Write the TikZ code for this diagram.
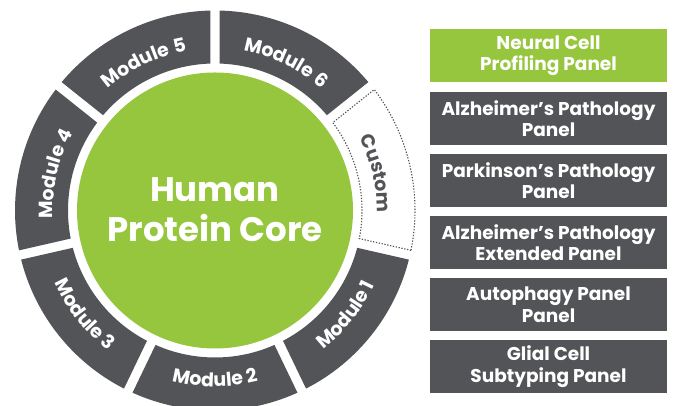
\documentclass[tikz,border=0pt]{standalone}
\usepackage{fontspec}
\setmainfont{Poppins}
\usetikzlibrary{decorations.text}
\definecolor{hpgreen}{RGB}{150,198,61}
\definecolor{hpgray}{RGB}{83,84,88}
\newcommand\ringseg[3]{%
  \pgfmathsetmacro\oa{#1+1.36}\pgfmathsetmacro\ob{#2-1.36}%
  \pgfmathsetmacro\ia{#1+1.85}\pgfmathsetmacro\ib{#2-1.85}%
  \path[#3] (\oa:200pt) arc[start angle=\oa,end angle=\ob,radius=200pt]
    -- (\ib:147pt) arc[start angle=\ib,end angle=\ia,radius=147pt] -- cycle;}
% clockwise label, letter tops outward
\newcommand\cwlabel[4]{%
  \path[decorate,decoration={text along path,text={|\modfont|#3},text align=center,text color=#4}]
    (#2-2:162pt) arc[start angle=#2-2,end angle=#1+2,radius=162pt];}
% counter-clockwise label, letter tops inward
\newcommand\ccwlabel[3]{%
  \path[decorate,decoration={text along path,text={|\modfont|#3},text align=center,text color=white}]
    (#1+2:176pt) arc[start angle=#1+2,end angle=#2-2,radius=176pt];}
\newcommand\modfont{\fontsize{19}{19}\selectfont\bfseries}
\tikzset{
  modseg/.style={fill=hpgray},
  customseg/.style={fill=white,draw=hpgray,line width=1.1pt,dash pattern=on 1.3pt off 1.6pt},
  panel/.style={minimum width=237pt,minimum height=53pt,inner sep=0pt,align=center,
    text=white,font=\fontsize{18.5}{21.5}\selectfont\bfseries},
  graypanel/.style={panel,fill=hpgray},
  greenpanel/.style={panel,fill=hpgreen},
}
\begin{document}
\begin{tikzpicture}[x=1pt,y=1pt]
\useasboundingbox (0,0) rectangle (675,406);
\begin{scope}[shift={(215,195.5)}]
  \fill[hpgreen] (0,0) circle[radius=138pt];
  \node[text=white,font=\fontsize{34}{40}\selectfont\bfseries,align=center] (core) at (0,1) {Human\\Protein Core};
  % segments (each 360/7 degrees)
  \ringseg{90}{141.4286}{modseg}
  \ringseg{141.4286}{192.8571}{modseg}
  \ringseg{192.8571}{244.2857}{modseg}
  \ringseg{244.2857}{295.7143}{modseg}
  \ringseg{295.7143}{347.1429}{modseg}
  \ringseg{347.1429}{398.5714}{customseg}
  \ringseg{398.5714}{450}{modseg}
  \cwlabel{90}{141.4286}{Module 5}{white}
  \cwlabel{141.4286}{192.8571}{Module 4}{white}
  \ccwlabel{192.8571}{244.2857}{Module 3}
  \ccwlabel{244.2857}{295.7143}{Module 2}
  \ccwlabel{295.7143}{347.1429}{Module 1}
  \cwlabel{347.1429}{398.5714}{Custom}{hpgray}
  \cwlabel{398.5714}{450}{Module 6}{white}
\end{scope}
\node[greenpanel] (p1) at (548.5,350.5) {Neural Cell\\Profiling Panel};
\node[graypanel] (p2) at (548.5,287.5) {Alzheimer’s Pathology\\Panel};
\node[graypanel] (p3) at (548.5,225.5) {Parkinson’s Pathology\\Panel};
\node[graypanel] (p4) at (548.5,163.5) {Alzheimer’s Pathology\\Extended Panel};
\node[graypanel] (p5) at (548.5,101.5) {Autophagy Panel\\Panel};
\node[graypanel] (p6) at (548.5,39.5) {Glial Cell\\Subtyping Panel};
\end{tikzpicture}
\end{document}
